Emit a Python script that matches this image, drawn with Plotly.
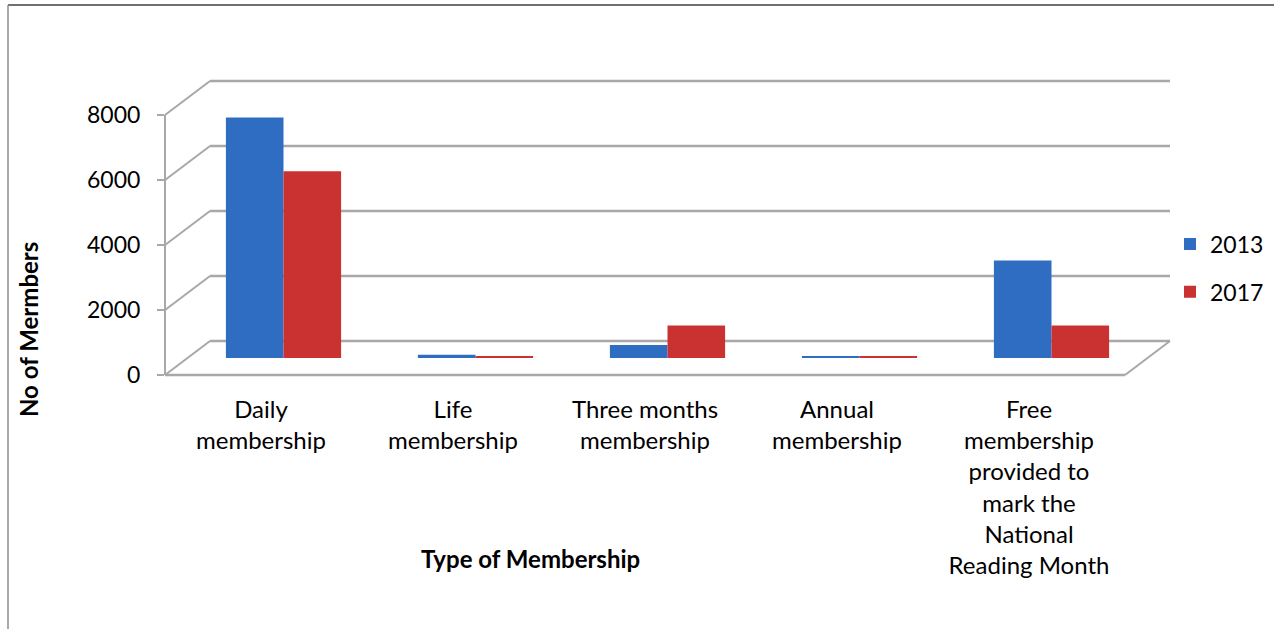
import plotly.graph_objects as go

# ---------------- data ----------------
categories = [
    "Daily<br>membership",
    "Life<br>membership",
    "Three months<br>membership",
    "Annual<br>membership",
    "Free<br>membership<br>provided to<br>mark the<br>National<br>Reading Month",
]
series_names = ["2013", "2017"]
values_2013 = [7400, 100, 400, 60, 3000]
values_2017 = [5750, 60, 1000, 40, 1000]
y_ticks = [0, 2000, 4000, 6000, 8000]
y_max = 8000

# ---------------- geometry (screen pixels) ----------------
FW, FH = 1274, 629
FL, FR = 165, 1125           # front floor left/right
FB, FT = 375, 115            # front y of 0 and of y_max
DX, DY = 45, 34              # depth offset to the back wall


def X(px):
    return px / FW


def Y(py):
    return 1 - py / FH


front_dom = [Y(FB), Y(FT)]
back_dom = [Y(FB - DY), Y(FT - DY)]
mid_dom = [Y(FB - DY / 2), Y(FT - DY / 2)]
cat_range = [-0.5, len(categories) - 0.5]


def front_y(v):
    return front_dom[0] + v / y_max * (front_dom[1] - front_dom[0])


def back_y(v):
    return back_dom[0] + v / y_max * (back_dom[1] - back_dom[0])


FONT = "Lato, 'Open Sans', sans-serif"
GRID = "#A8A8A8"
BLUE = "#2E6DC2"
RED = "#C93230"

fig = go.Figure()

fig.add_trace(go.Bar(
    name=series_names[0], x=categories, y=values_2013,
    marker=dict(color=BLUE, line=dict(width=0)),
    xaxis="x", yaxis="y", legendgroup="a",
))
fig.add_trace(go.Bar(
    name=series_names[1], x=categories, y=values_2017,
    marker=dict(color=RED, line=dict(width=0)),
    xaxis="x", yaxis="y", legendgroup="b",
))
# invisible trace carrying the front axes (category labels and value ticks)
fig.add_trace(go.Scatter(
    x=categories, y=[0] * len(categories), mode="markers",
    marker=dict(size=1, opacity=0), showlegend=False, hoverinfo="skip",
    xaxis="x2", yaxis="y2",
))

shapes = []
# back wall gridlines and left wall diagonals
for v in y_ticks:
    shapes.append(dict(type="line", xref="paper", yref="paper",
                       x0=X(FL + DX), y0=back_y(v), x1=X(FR + DX), y1=back_y(v),
                       line=dict(color=GRID, width=2.5), layer="below"))
    shapes.append(dict(type="line", xref="paper", yref="paper",
                       x0=X(FL), y0=front_y(v), x1=X(FL + DX), y1=back_y(v),
                       line=dict(color=GRID, width=2), layer="below"))
# floor front edge and right diagonal
shapes.append(dict(type="line", xref="paper", yref="paper",
                   x0=X(FL), y0=front_y(0), x1=X(FR), y1=front_y(0),
                   line=dict(color=GRID, width=2.5), layer="below"))
shapes.append(dict(type="line", xref="paper", yref="paper",
                   x0=X(FR), y0=front_y(0), x1=X(FR + DX), y1=back_y(0),
                   line=dict(color=GRID, width=2), layer="below"))
# outer chart border (top and left)
shapes.append(dict(type="line", xref="paper", yref="paper",
                   x0=X(8), y0=Y(5), x1=1, y1=Y(5),
                   line=dict(color="#404040", width=1.5)))
shapes.append(dict(type="line", xref="paper", yref="paper",
                   x0=X(8), y0=Y(5), x1=X(8), y1=0,
                   line=dict(color="#8C8C8C", width=1.5)))

annotations = [
    dict(text="<b>No of Mermbers</b>", xref="paper", yref="paper",
         x=X(28), y=Y(330), xanchor="center", yanchor="middle",
         textangle=-90, showarrow=False,
         font=dict(family=FONT, size=24, color="black")),
    dict(text="<b>Type of Membership</b>", xref="paper", yref="paper",
         x=X(530), y=Y(558), xanchor="center", yanchor="middle",
         showarrow=False,
         font=dict(family=FONT, size=24, color="black")),
]

fig.update_layout(
    width=FW, height=FH,
    margin=dict(l=0, r=0, t=0, b=0, autoexpand=False),
    paper_bgcolor="white", plot_bgcolor="rgba(0,0,0,0)",
    barmode="group", bargap=0.4, bargroupgap=0.0,
    font=dict(family=FONT, size=22, color="black"),
    xaxis=dict(domain=[X(FL + DX / 2), X(FR + DX / 2)], anchor="y",
               range=cat_range,
               showticklabels=False, showgrid=False, zeroline=False,
               showline=False, ticks="", fixedrange=True),
    yaxis=dict(domain=mid_dom, anchor="x", range=[0, y_max],
               showticklabels=False, showgrid=False, zeroline=False,
               showline=False, ticks="", fixedrange=True),
    xaxis2=dict(domain=[X(FL), X(FR)], anchor="y2", range=cat_range,
                showgrid=False, zeroline=False, showline=False, ticks="",
                tickfont=dict(family=FONT, size=24, color="black"),
                ticklabelstandoff=18, fixedrange=True),
    yaxis2=dict(domain=front_dom, anchor="free", position=X(FL),
                range=[0, y_max], tickvals=y_ticks,
                showgrid=False, zeroline=False, showline=True,
                linecolor=GRID, linewidth=2, ticks="outside", ticklen=7,
                tickcolor=GRID, tickwidth=2,
                tickfont=dict(family=FONT, size=23, color="black"),
                ticklabelstandoff=12, fixedrange=True),
    legend=dict(x=X(1170), xanchor="left", y=Y(268), yanchor="middle",
                font=dict(family=FONT, size=23, color="black"),
                traceorder="grouped", tracegroupgap=15,
                bgcolor="rgba(0,0,0,0)", itemwidth=30),
    shapes=shapes,
    annotations=annotations,
)

fig.write_html("out.html", config={"displayModeBar": False},
               post_script="document.body.style.margin='0';")
